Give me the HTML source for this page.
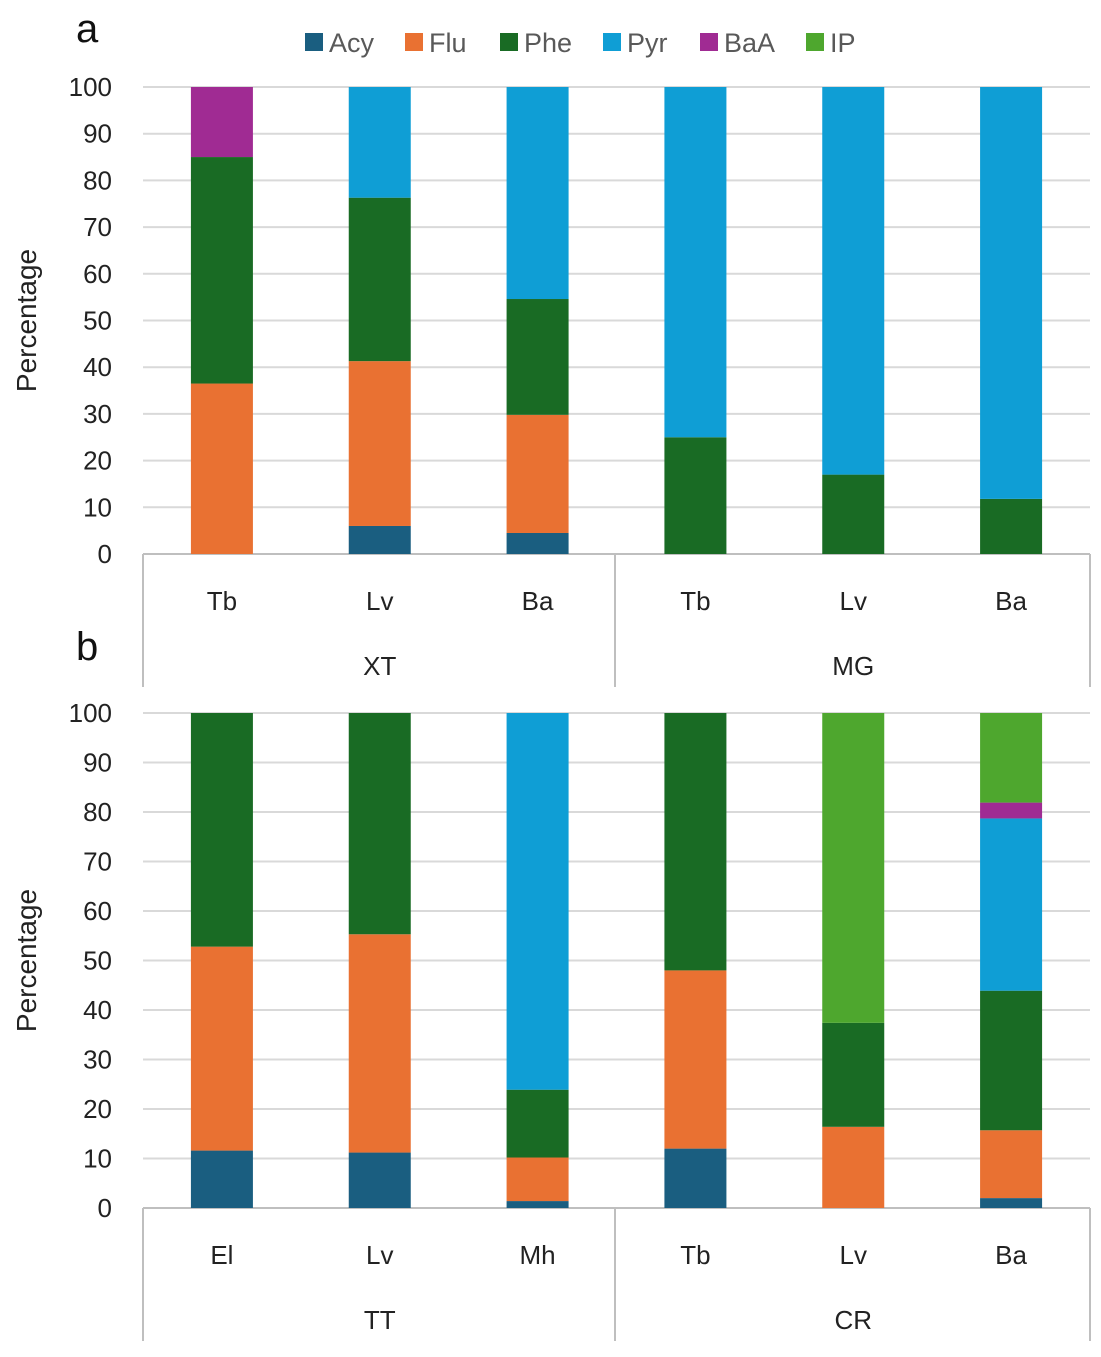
<!DOCTYPE html>
<html><head><meta charset="utf-8"><style>
html,body{margin:0;padding:0;background:#fff;}
svg{display:block;font-family:"Liberation Sans",Arial,sans-serif;}
</style></head><body>
<svg id="chart" width="1101" height="1357" viewBox="0 0 1101 1357"></svg>
<script>
const series = ["Acy","Flu","Phe","Pyr","BaA","IP"];
const colors = ["#1a5e80","#e97132","#196b24","#0f9ed5","#a02b93","#4ea72e"];
const aSubs = ["Tb","Lv","Ba","Tb","Lv","Ba"];
const aGroups = ["XT","MG"];
const aAcy = [0,6,4.5,0,0,0];
const aFlu = [36.5,35.3,25.3,0,0,0];
const aPhe = [48.5,35,24.8,25,17,11.8];
const aPyr = [0,23.7,45.4,75,83,88.2];
const aBaA = [15,0,0,0,0,0];
const aIP  = [0,0,0,0,0,0];
const bSubs = ["El","Lv","Mh","Tb","Lv","Ba"];
const bGroups = ["TT","CR"];
const bAcy = [11.6,11.2,1.4,12,0,2];
const bFlu = [41.2,44.1,8.8,36,16.4,13.7];
const bPhe = [47.2,44.7,13.7,52,21,28.2];
const bPyr = [0,0,76.1,0,0,34.8];
const bBaA = [0,0,0,0,0,3.2];
const bIP  = [0,0,0,0,62.6,18.1];
const yTicks = [0,10,20,30,40,50,60,70,80,90,100];

const svg = document.getElementById('chart');
const NS = "http://www.w3.org/2000/svg";
function el(tag, attrs, parent){const e=document.createElementNS(NS,tag);for(const k in attrs)e.setAttribute(k,attrs[k]);(parent||svg).appendChild(e);return e;}

const X0=143, X1=1090, catW=(X1-X0)/6, barW=62;

function panel(pid, letter, letterY, y0, y100, subs, groups, data){
  const g = el('g',{});
  
  
  const yS = v => y0 - (y0-y100)*v/100;
  yTicks.forEach(t=>{
    const ln = el('line',{x1:X0,x2:X1,y1:yS(t),y2:yS(t),stroke:t===0?'#bfbfbf':'#d9d9d9','stroke-width':2},g);
    
    
    const tx = el('text',{x:112,y:yS(t)+9,'text-anchor':'end','font-size':26,fill:'#222'},g);
    tx.textContent=t;
    
    
  });
  const yt = el('text',{transform:`translate(36,${(y0+y100)/2}) rotate(-90)`,'text-anchor':'middle','font-size':28,fill:'#222'},g);
  yt.textContent='Percentage';
  
  
  const lt = el('text',{x:76,y:letterY,'font-size':40,fill:'#111'},g);
  lt.textContent=letter;
  
  
  subs.forEach((s,i)=>{
    const cx = X0+catW*(i+0.5);
    let acc=0;
    data.forEach((arr,si)=>{
      const v=arr[i]; if(v<=0)return;
      const r = el('rect',{x:cx-barW/2,y:yS(acc+v),width:barW,height:yS(acc)-yS(acc+v),fill:colors[si]},g);
      
      
      acc+=v;
    });
    const st = el('text',{x:cx,y:y0+56,'text-anchor':'middle','font-size':26,fill:'#222'},g);
    st.textContent=s;
    
    
  });
  [X0,615,X1].forEach(x=>{
    const l=el('line',{x1:x,x2:x,y1:y0,y2:y0+133,stroke:'#bfbfbf','stroke-width':2},g);
    
    
  });
  groups.forEach((gr,i)=>{
    const t=el('text',{x:X0+catW*(3*i+1.5),y:y0+121,'text-anchor':'middle','font-size':26,fill:'#222'},g);
    t.textContent=gr;
    
    
  });
}
panel('a','a',42,554,87,aSubs,aGroups,[aAcy,aFlu,aPhe,aPyr,aBaA,aIP]);
panel('b','b',660,1208,713,bSubs,bGroups,[bAcy,bFlu,bPhe,bPyr,bBaA,bIP]);

const legX=[305,405,500,603,700,806];
series.forEach((s,i)=>{
  const g=el('g',{});
  
  
  el('rect',{x:legX[i],y:33,width:18,height:18,fill:colors[i]},g);
  const t=el('text',{x:legX[i]+24,y:52,'font-size':27,fill:'#595959'},g);
  t.textContent=s;
});
</script>
</body></html>
